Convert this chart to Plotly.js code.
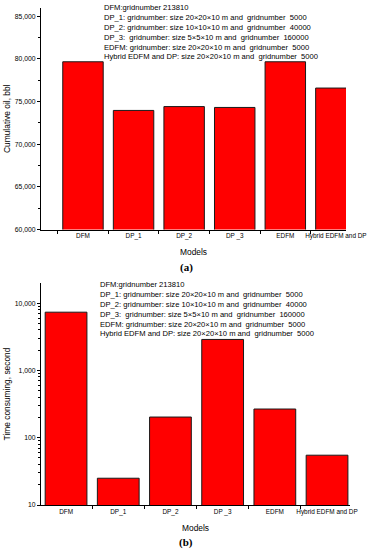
<!DOCTYPE html>
<html>
<head>
<meta charset="utf-8">
<script src="https://cdn.plot.ly/plotly-3.0.1.min.js"></script>
<style>html,body{margin:0;padding:0;background:#fff;}#chart{width:368px;height:550px;}</style>
</head>
<body>
<div id="chart"></div>
<script>
const models = ["DFM", "DP_1", "DP_2", "DP _3", "EDFM", "Hybrid EDFM and DP"];
const cumulativeOil = [79650, 73950, 74400, 74300, 79650, 76570];
const timeConsuming = [7350, 25, 203, 2890, 267, 55];
const oilTickVals = [60000, 65000, 70000, 75000, 80000, 85000];
const timeTickVals = [10, 100, 1000, 10000];
const timeTickText = ["10", "100", "1,000", "10,000"];
const noteLines = [
  "DFM:gridnumber 213810",
  "DP_1: gridnumber: size 20×20×10 m and \u00a0gridnumber \u00a05000",
  "DP_2: gridnumber: size 10×10×10 m and \u00a0gridnumber \u00a040000",
  "DP_3: \u00a0gridnumber: size 5×5×10 m and \u00a0gridnumber \u00a0160000",
  "EDFM: gridnumber: size 20×20×10 m and \u00a0gridnumber \u00a05000",
  "Hybrid EDFM and DP: size 20×20×10 m and \u00a0gridnumber \u00a05000"
];

const FONT = "Liberation Sans, Arial, sans-serif";
const barStyle = {color: "#ff0000", line: {color: "#1a1a1a", width: 1}};

const minorLog = [];
for (let d = 10; d < 100000; d *= 10) for (let k = 2; k <= 9; k++) minorLog.push(d * k);

const traces = [
  {type: "bar", x: models, y: cumulativeOil, xaxis: "x", yaxis: "y", width: 0.8, marker: barStyle, showlegend: false, hoverinfo: "x+y"},
  {type: "bar", x: models, y: timeConsuming, xaxis: "x2", yaxis: "y2", width: 0.8, marker: barStyle, showlegend: false, hoverinfo: "x+y"}
];

const xCommon = {
  type: "category", showline: true, linecolor: "#000", linewidth: 1, mirror: false,
  ticks: "outside", tickson: "boundaries", ticklen: 3, tickcolor: "#000", tickwidth: 1,
  tickangle: 0, showgrid: false, zeroline: false, tickfont: {family: FONT, size: 6.4, color: "#000"},
  title: {text: "Models", font: {family: FONT, size: 8.4, color: "#000"}, standoff: 9}
};

const layout = {
  width: 368, height: 550,
  margin: {l: 0, r: 0, t: 0, b: 0, autoexpand: false},
  paper_bgcolor: "#fff", plot_bgcolor: "#fff",
  font: {family: FONT, color: "#000"},
  bargap: 0.2,
  xaxis: Object.assign({}, xCommon, {domain: [41/368, 346/368], range: [-0.83, 5.2], anchor: "y"}),
  yaxis: {
    domain: [1 - 229.5/550, 1 - 8/550], range: [60000, 85950], anchor: "x",
    showline: true, linecolor: "#000", linewidth: 1, showgrid: false, zeroline: false,
    ticks: "outside", ticklen: 3, tickcolor: "#000", tickvals: oilTickVals, tickformat: ",d",
    minor: {ticks: "outside", ticklen: 2, dtick: 2500, tickcolor: "#000", showgrid: false},
    tickfont: {family: FONT, size: 6.8, color: "#000"},
    title: {text: "Cumulative oil, bbl", font: {family: FONT, size: 8.4, color: "#000"}, standoff: 2}
  },
  xaxis2: Object.assign({}, xCommon, {domain: [41/368, 350/368], range: [-0.48, 5.44], anchor: "y2", title: {text: "Models", font: {family: FONT, size: 8.4, color: "#000"}, standoff: 10}}),
  yaxis2: {
    type: "log", domain: [1 - 505/550, 1 - 283/550], range: [1, 4.30], anchor: "x2",
    showline: true, linecolor: "#000", linewidth: 1, showgrid: false, zeroline: false,
    ticks: "outside", ticklen: 3, tickcolor: "#000", tickvals: timeTickVals, ticktext: timeTickText,
    minor: {ticks: "outside", ticklen: 2, tickvals: minorLog, tickcolor: "#000", showgrid: false},
    tickfont: {family: FONT, size: 6.8, color: "#000"},
    title: {text: "Time consuming, second", font: {family: FONT, size: 8.4, color: "#000"}, standoff: 2}
  },
  annotations: [
    {xref: "paper", yref: "paper", x: 102/368, y: 1 - 1/550, xanchor: "left", yanchor: "top", align: "left",
     showarrow: false, text: noteLines.join("<br>"), font: {family: FONT, size: 7.6, color: "#000"}},
    {xref: "paper", yref: "paper", x: 98/368, y: 1 - 278/550, xanchor: "left", yanchor: "top", align: "left",
     showarrow: false, text: noteLines.join("<br>"), font: {family: FONT, size: 7.6, color: "#000"}},
    {xref: "paper", yref: "paper", x: 186/368, y: 1 - 267/550, xanchor: "center", yanchor: "middle",
     showarrow: false, text: "<b>(a)</b>", font: {family: "Liberation Serif, Times New Roman, serif", size: 11, color: "#000"}},
    {xref: "paper", yref: "paper", x: 186/368, y: 1 - 542/550, xanchor: "center", yanchor: "middle",
     showarrow: false, text: "<b>(b)</b>", font: {family: "Liberation Serif, Times New Roman, serif", size: 11, color: "#000"}}
  ]
};

Plotly.newPlot("chart", traces, layout, {staticPlot: true, displayModeBar: false});
</script>
</body>
</html>
